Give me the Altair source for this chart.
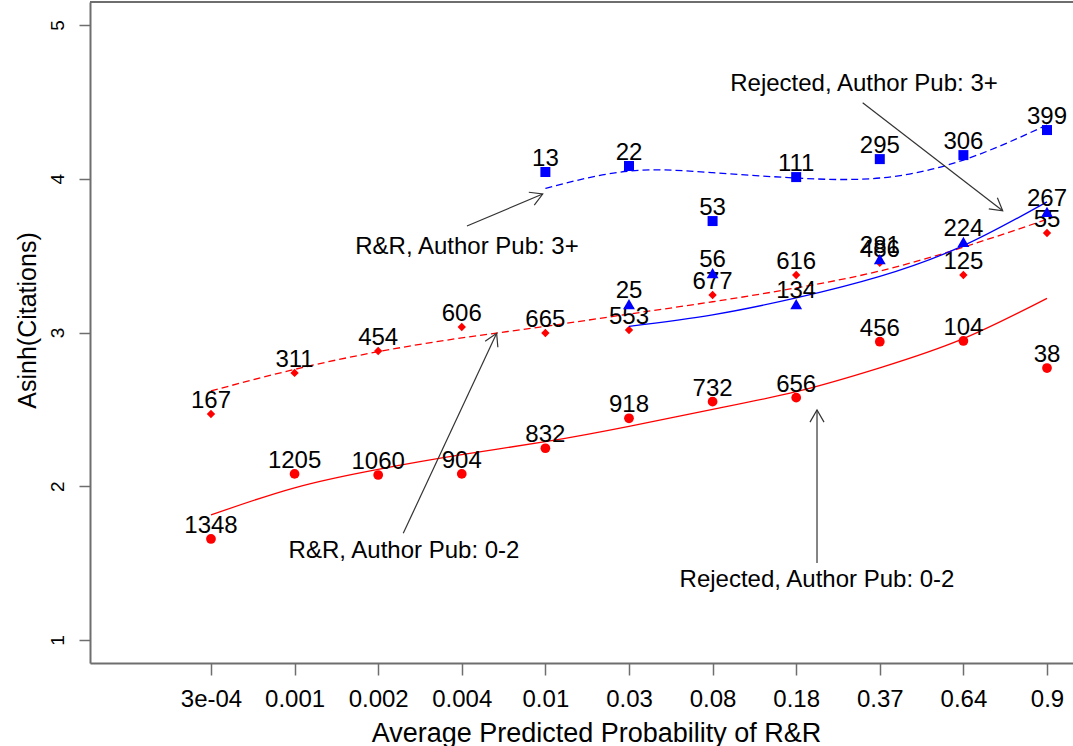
import math
import altair as alt
import pandas as pd

# x categories (average predicted probability of R&R)
prob_labels = ["3e-04", "0.001", "0.002", "0.004", "0.01", "0.03",
               "0.08", "0.18", "0.37", "0.64", "0.9"]
positions = list(range(1, 12))

# Rejected, Author Pub: 0-2  (red circles, solid fit)
rej_low_pos = positions
rej_low_y = [1.657, 2.080, 2.073, 2.080, 2.247, 2.442, 2.550, 2.576, 2.940, 2.945, 2.769]
rej_low_n = [1348, 1205, 1060, 904, 832, 918, 732, 656, 456, 104, 38]
rej_low_fit = [1.813, 1.990, 2.110, 2.205, 2.290, 2.390, 2.500, 2.615, 2.770, 2.960, 3.222]

# R&R, Author Pub: 0-2  (red diamonds, dashed fit)
rr_low_pos = positions
rr_low_y = [2.470, 2.737, 2.880, 3.036, 2.997, 3.016, 3.244, 3.374, 3.454, 3.374, 3.647]
rr_low_n = [167, 311, 454, 606, 665, 553, 677, 616, 486, 125, 55]
rr_low_fit = [2.620, 2.760, 2.875, 2.965, 3.040, 3.120, 3.200, 3.290, 3.400, 3.555, 3.736]

# R&R, Author Pub: 3+  (blue triangles, solid fit)
rr_high_pos = [6, 7, 8, 9, 10, 11]
rr_high_y = [3.185, 3.387, 3.185, 3.478, 3.589, 3.784]
rr_high_n = [25, 56, 134, 281, 224, 267]
rr_high_fit = [3.040, 3.115, 3.225, 3.365, 3.565, 3.850]

# Rejected, Author Pub: 3+  (blue squares, dashed fit)
rej_high_pos = [5, 6, 7, 8, 9, 10, 11]
rej_high_y = [4.044, 4.083, 3.725, 4.011, 4.128, 4.154, 4.317]
rej_high_n = [13, 22, 53, 111, 295, 306, 399]
rej_high_fit = [3.937, 4.050, 4.040, 4.005, 4.005, 4.122, 4.350]

# annotation labels and their arrows (start -> tip)
note_text = ["Rejected, Author Pub: 3+", "R&R, Author Pub: 3+",
             "R&R, Author Pub: 0-2", "Rejected, Author Pub: 0-2"]
note_x = [8.811, 4.062, 3.309, 8.249]
note_y = [4.616, 3.556, 1.579, 1.390]
arrow_x0 = [8.795, 4.062, 3.300, 8.249]
arrow_y0 = [4.495, 3.693, 1.694, 1.501]
arrow_x1 = [10.470, 4.968, 4.417, 8.249]
arrow_y1 = [3.792, 3.901, 2.995, 2.496]

W, H = 983, 661
X_DOM = [-0.447, 11.311]
Y_DOM = [0.85, 5.15]
FONT = "Liberation Sans"
AXIS_GREY = "#6e6e6e"
RED = "#FF0000"
BLUE = "#0000FF"
INK = "#333333"

xs = alt.Scale(domain=X_DOM, nice=False, zero=False)
ys = alt.Scale(domain=Y_DOM, nice=False, zero=False)

label_expr = "[" + ",".join(f"'{s}'" for s in prob_labels) + "][datum.value - 1]"

x_axis = alt.Axis(
    values=positions, labelExpr=label_expr, grid=False,
    title="Average Predicted Probability of R&R",
    domainColor=AXIS_GREY, domainWidth=2, tickColor=AXIS_GREY, tickWidth=1.5,
    tickSize=12, labelFontSize=24, labelFont=FONT, labelColor="black",
    labelPadding=12, labelFlush=False, labelOverlap=False,
    titleFont=FONT, titleFontSize=27, titleFontWeight="normal", titleColor="black",
    titleX=506, titleY=78, titleBaseline="alphabetic", titleAlign="center",
)
y_axis = alt.Axis(
    values=[1, 2, 3, 4, 5], format="d", grid=False,
    title="Asinh(Citations)",
    domainColor=AXIS_GREY, domainWidth=2, tickColor=AXIS_GREY, tickWidth=1.5,
    tickSize=11, labelFontSize=19, labelFont=FONT, labelColor="black",
    labelAngle=270, labelAlign="center", labelBaseline="bottom", labelPadding=12,
    titleFont=FONT, titleFontSize=25, titleFontWeight="normal", titleColor="black",
    titleAngle=270, titleX=-63, titleY=318, titleBaseline="middle", titleAlign="center",
)


def X(field):
    return alt.X(f"{field}:Q", scale=xs, axis=x_axis)


def Y(field):
    return alt.Y(f"{field}:Q", scale=ys, axis=y_axis)


def series_layers(pos, yv, n, fit, color, shape, size, dashed):
    pts = pd.DataFrame({"pos": pos, "val": yv, "n": [str(v) for v in n]})
    fit_df = pd.DataFrame({"pos": pos, "fit": fit})
    line_kw = dict(color=color, strokeWidth=1.3, interpolate="natural")
    if dashed:
        line_kw["strokeDash"] = [7, 4]
    line = alt.Chart(fit_df).mark_line(**line_kw).encode(x=X("pos"), y=Y("fit"))
    marks = alt.Chart(pts).mark_point(
        shape=shape, filled=True, color=color, size=size, opacity=1
    ).encode(x=X("pos"), y=Y("val"))
    labels = alt.Chart(pts).mark_text(
        font=FONT, fontSize=24, color="black", align="center",
        baseline="alphabetic", dy=-6
    ).encode(x=X("pos"), y=Y("val"), text="n:N")
    return [line, marks, labels]


layers = []
layers += series_layers(rej_low_pos, rej_low_y, rej_low_n, rej_low_fit, RED, "circle", 95, False)
layers += series_layers(rr_low_pos, rr_low_y, rr_low_n, rr_low_fit, RED, "diamond", 70, True)
layers += series_layers(rr_high_pos, rr_high_y, rr_high_n, rr_high_fit, BLUE, "triangle-up", 140, False)
layers += series_layers(rej_high_pos, rej_high_y, rej_high_n, rej_high_fit, BLUE, "square", 100, True)

# arrow heads are rotated to the shaft direction in screen space
px_x = W / (X_DOM[1] - X_DOM[0])
px_y = H / (Y_DOM[1] - Y_DOM[0])
angles = []
for x0, y0, x1, y1 in zip(arrow_x0, arrow_y0, arrow_x1, arrow_y1):
    dx = (x1 - x0) * px_x
    up = (y1 - y0) * px_y
    angles.append(math.degrees(math.atan2(dx, up)) % 360)

arrows = pd.DataFrame({"x0": arrow_x0, "y0": arrow_y0, "x1": arrow_x1,
                       "y1": arrow_y1, "ang": angles})
notes = pd.DataFrame({"x": note_x, "y": note_y, "t": note_text})

shafts = alt.Chart(arrows).mark_rule(color=INK, strokeWidth=1.2).encode(
    x=X("x0"), y=Y("y0"), x2="x1:Q", y2="y1:Q"
)
heads = alt.Chart(arrows).mark_point(
    shape="M -0.5 0.866 L 0 0 L 0.5 0.866", size=784, filled=False,
    color=INK, strokeWidth=1.2, opacity=1
).encode(x=X("x1"), y=Y("y1"), angle=alt.Angle("ang:Q", scale=None))
note_marks = alt.Chart(notes).mark_text(
    font=FONT, fontSize=24, color="black", align="center", baseline="middle"
).encode(x=X("x"), y=Y("y"), text="t:N")

# top edge of the plot frame
frame_top = alt.Chart(notes).mark_rule(color=AXIS_GREY, strokeWidth=2).encode(
    x=alt.value(0), x2=alt.value(W), y=alt.value(0)
)

chart = alt.layer(*layers, shafts, heads, note_marks, frame_top).properties(
    width=W, height=H,
    autosize=alt.AutoSizeParams(type="none"),
    padding={"left": 90, "top": 2, "right": 0, "bottom": 83},
    background="white",
).configure_view(stroke=None).configure(font=FONT)

chart.save("out.html", embed_options={"renderer": "svg", "actions": False})
